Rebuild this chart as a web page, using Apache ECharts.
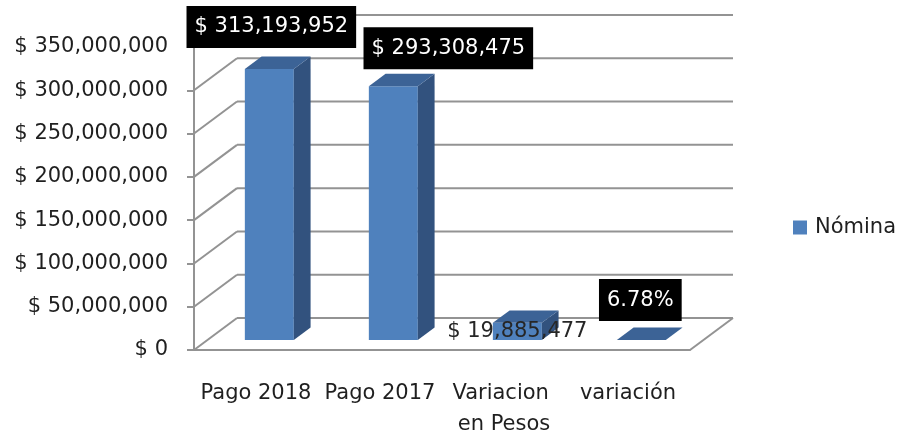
<!DOCTYPE html>
<html>
<head>
<meta charset="utf-8">
<script src="https://cdn.jsdelivr.net/npm/echarts@6/dist/echarts.min.js"></script>
<style>
  html, body { margin: 0; padding: 0; background: #fff; }
  #chart { width: 906px; height: 440px; }
</style>
</head>
<body>
<div id="chart"></div>
<script>
const categories = ['Pago 2018', 'Pago 2017', 'Variacion en Pesos', 'variación']
const values = [313193952, 293308475, 19885477, 0.0678]
const valueKinds = ['money', 'money', 'money', 'percent']
const yTicks = [0, 50000000, 100000000, 150000000, 200000000, 250000000, 300000000, 350000000]

// 3d look: floor depth and where the bar sits inside it
const DEPTH_X = 43
const DEPTH_Y = 32
const D0 = 0.31
const D1 = 0.70
const BAR_RATIO = 0.395

const FONT = 'DejaVu Sans'
const GRID_COLOR = '#939393'
const TEXT_COLOR = '#1f1f1f'
// label centre relative to the top front edge of each bar
const labelPlace = [
  { dx: 2, dy: -42, boxed: true },
  { dx: 55, dy: -38, boxed: true },
  { dx: 0, dy: 9, boxed: false },
  { dx: -1, dy: -40, boxed: true }
]

function money(v) {
  return '$ ' + String(Math.round(v)).replace(/\B(?=(\d{3})+(?!\d))/g, ',')
}
function labelText(i) {
  if (valueKinds[i] === 'percent') return (values[i] * 100).toFixed(2) + '%'
  return money(values[i])
}

const chart = echarts.init(document.getElementById('chart'))

const options = {
  backgroundColor: '#fff',
  animation: false,
  textStyle: { fontFamily: FONT },
  legend: {
    data: [{ name: 'Nómina', icon: 'rect' }],
    left: 788,
    top: 212,
    itemWidth: 14,
    itemHeight: 14,
    itemGap: 7,
    selectedMode: false,
    textStyle: { fontFamily: FONT, fontSize: 21, color: TEXT_COLOR, padding: [0, 0, 0, 3] }
  },
  grid: { left: 194, right: 216, top: 47, bottom: 90 },
  xAxis: {
    type: 'category',
    data: categories,
    axisLine: { lineStyle: { color: GRID_COLOR, width: 2 } },
    axisTick: { length: 8, lineStyle: { color: GRID_COLOR, width: 2 } },
    axisLabel: {
      margin: 28,
      fontFamily: FONT,
      fontSize: 21,
      lineHeight: 31,
      color: TEXT_COLOR,
      width: 124,
      overflow: 'break',
      interval: 0
    },
    splitLine: { show: false }
  },
  yAxis: {
    type: 'value',
    min: 0,
    max: 350000000,
    interval: 50000000,
    axisLine: { show: true, lineStyle: { color: GRID_COLOR, width: 2 } },
    axisTick: { show: true, length: 7, lineStyle: { color: GRID_COLOR, width: 2 } },
    axisLabel: {
      margin: 26,
      fontFamily: FONT,
      fontSize: 21,
      color: TEXT_COLOR,
      formatter: money
    },
    splitLine: { show: false }
  },
  series: [
    {
      // back wall, side wall and floor lines
      type: 'custom',
      silent: true,
      z: 1,
      encode: { x: 0, y: 1 },
      data: yTicks.map(v => [0, v]),
      renderItem: function (params, api) {
        const cs = params.coordSys
        const y = api.coord([0, api.value(1)])[1]
        const ls = { stroke: GRID_COLOR, lineWidth: 2 }
        const kids = [
          { type: 'line', shape: { x1: cs.x, y1: y, x2: cs.x + DEPTH_X, y2: y - DEPTH_Y }, style: ls },
          { type: 'line', shape: { x1: cs.x + DEPTH_X, y1: y - DEPTH_Y, x2: cs.x + cs.width + DEPTH_X, y2: y - DEPTH_Y }, style: ls }
        ]
        if (api.value(1) === 0) {
          kids.push({
            type: 'line',
            shape: { x1: cs.x + cs.width, y1: y, x2: cs.x + cs.width + DEPTH_X, y2: y - DEPTH_Y },
            style: ls
          })
        }
        return { type: 'group', children: kids }
      }
    },
    {
      name: 'Nómina',
      type: 'custom',
      z: 3,
      itemStyle: { color: '#4F81BD' },
      encode: { x: 0, y: 1 },
      data: values.map((v, i) => [i, v]),
      renderItem: function (params, api) {
        const i = api.value(0)
        const base = api.coord([i, 0])
        const top = api.coord([i, api.value(1)])
        const w = api.size([1, 0])[0] * BAR_RATIO
        const x0 = base[0] + DEPTH_X * D0 - w / 2
        const x1 = x0 + w
        const yb = base[1] - DEPTH_Y * D0
        const yt = top[1] - DEPTH_Y * D0
        const bx = DEPTH_X * (D1 - D0)
        const by = DEPTH_Y * (D1 - D0)
        const kids = [
          { type: 'polygon', shape: { points: [[x0, yt], [x1, yt], [x1, yb], [x0, yb]] }, style: { fill: '#4F81BD' } },
          { type: 'polygon', shape: { points: [[x1, yt], [x1 + bx, yt - by], [x1 + bx, yb - by], [x1, yb]] }, style: { fill: '#32527E' } },
          { type: 'polygon', shape: { points: [[x0, yt], [x1, yt], [x1 + bx, yt - by], [x0 + bx, yt - by]] }, style: { fill: '#3C6396' } }
        ]
        const lp = labelPlace[i]
        const ts = {
          text: labelText(i),
          x: (x0 + x1) / 2 + lp.dx,
          y: yt + lp.dy,
          fontFamily: FONT,
          fontSize: 21,
          align: 'center',
          verticalAlign: 'middle',
          fill: lp.boxed ? '#fff' : '#262626'
        }
        if (lp.boxed) {
          ts.backgroundColor = '#000'
          ts.padding = [9, 8, 8, 8]
          ts.lineHeight = 25
        }
        kids.push({ type: 'text', z2: 10, style: ts })
        return { type: 'group', children: kids }
      }
    }
  ]
}

chart.setOption(options)
</script>
</body>
</html>
